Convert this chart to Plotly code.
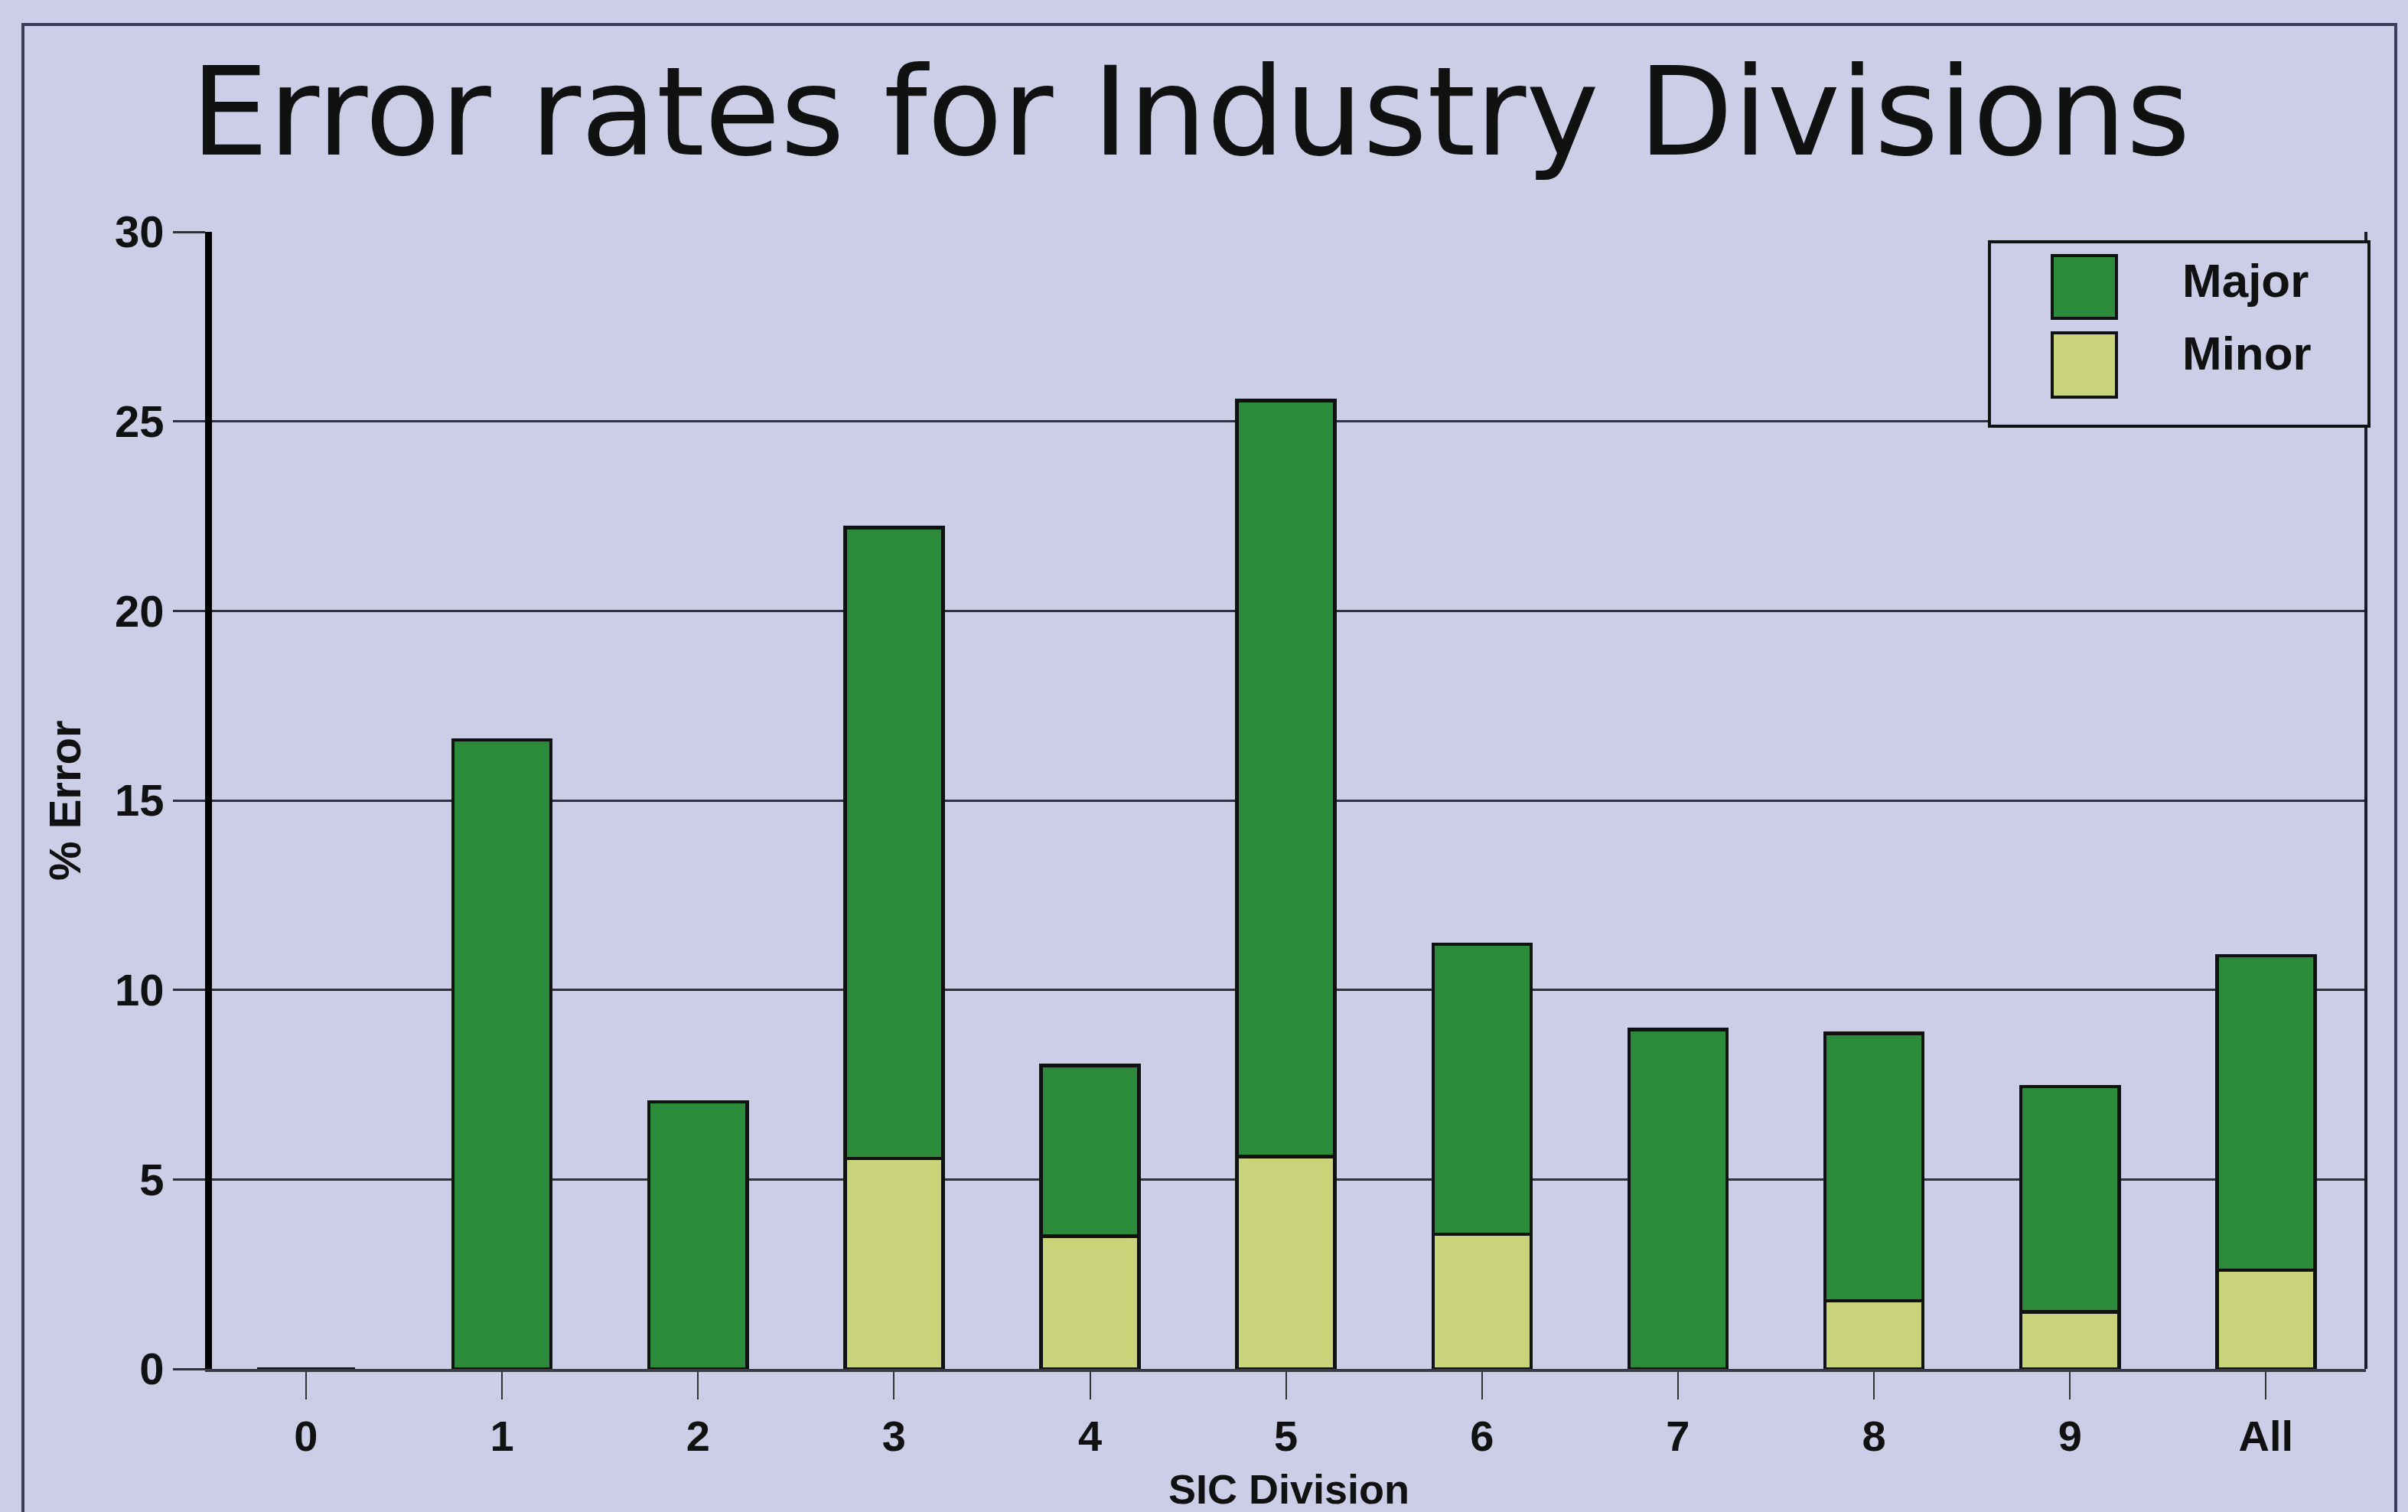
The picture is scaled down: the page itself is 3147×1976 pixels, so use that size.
import plotly.graph_objects as go

categories = ["0", "1", "2", "3", "4", "5", "6", "7", "8", "9", "All"]
major = [0, 16.6, 7.05, 16.65, 4.5, 19.95, 7.65, 8.95, 7.05, 5.95, 8.3]
minor = [0, 0, 0, 5.55, 3.5, 5.6, 3.55, 0, 1.8, 1.5, 2.6]
y_ticks = [0, 5, 10, 15, 20, 25, 30]

BG = "#CBCEE6"
MAJOR_C = "#2C8A3B"
MINOR_C = "#C9D47A"
GRID = "#30303c"
FONT = "Arial, Liberation Sans, sans-serif"

W, H = 3147, 1976
L, R, T, B = 277, 55, 303, 187
PW, PH = W - L - R, H - T - B

def px(x):
    return (x - L) / PW

def py(y):
    return (H - B - y) / PH

fig = go.Figure()
fig.add_trace(go.Bar(x=categories, y=minor, name="Minor", marker=dict(color=MINOR_C, line=dict(color="#111", width=4.5)), width=0.5))
fig.add_trace(go.Bar(x=categories, y=major, name="Major", marker=dict(color=MAJOR_C, line=dict(color="#111", width=4.5)), width=0.5))

shapes = [
    # outer frame
    dict(type="rect", xref="paper", yref="paper", x0=px(30), x1=px(3131), y0=py(2010), y1=py(32),
         line=dict(color="#3c3c5c", width=4), layer="below"),
    # right border of plot
    dict(type="line", xref="paper", yref="paper", x0=1, x1=1, y0=0, y1=1, line=dict(color="#1a1a24", width=4)),
    # legend box
    dict(type="rect", xref="paper", yref="paper", x0=px(2600), x1=px(3096), y0=py(557), y1=py(316),
         line=dict(color="#111", width=4), fillcolor=BG),
    dict(type="rect", xref="paper", yref="paper", x0=px(2682), x1=px(2766), y0=py(416), y1=py(334),
         line=dict(color="#111", width=4), fillcolor=MAJOR_C),
    dict(type="rect", xref="paper", yref="paper", x0=px(2682), x1=px(2766), y0=py(519), y1=py(435),
         line=dict(color="#111", width=4), fillcolor=MINOR_C),
]

annotations = [
    dict(text="Major", xref="paper", yref="paper", x=px(2850), y=py(367), xanchor="left", yanchor="middle",
         showarrow=False, font=dict(family=FONT, size=62, color="#111", weight="bold")),
    dict(text="Minor", xref="paper", yref="paper", x=px(2850), y=py(462), xanchor="left", yanchor="middle",
         showarrow=False, font=dict(family=FONT, size=62, color="#111", weight="bold")),
    dict(text="% Error", xref="paper", yref="paper", x=px(84), y=0.5, xanchor="center", yanchor="middle",
         textangle=-90, showarrow=False, font=dict(family=FONT, size=58, color="#111", weight="bold")),
    dict(text="SIC Division", xref="paper", yref="paper", x=0.5, y=py(1946), xanchor="center", yanchor="middle",
         showarrow=False, font=dict(family=FONT, size=54, color="#111", weight="bold")),
]

fig.update_layout(
    width=W, height=H,
    margin=dict(l=L, r=R, t=T, b=B),
    paper_bgcolor=BG, plot_bgcolor=BG,
    barmode="stack",
    showlegend=False,
    title=dict(text="Error rates for Industry Divisions", x=1556 / W, xanchor="center",
               y=1 - 146 / H, yanchor="middle",
               font=dict(family="DejaVu Sans", size=161, color="#111")),
    shapes=shapes,
    annotations=annotations,
)

fig.update_xaxes(
    type="category", range=[-0.48, 10.51],
    showgrid=False, zeroline=False,
    showline=True, linecolor="#3a3a48", linewidth=3.5,
    ticks="outside", ticklen=36, tickwidth=2, tickcolor="#333",
    tickfont=dict(family=FONT, size=56, color="#111", weight="bold"),
)
fig.update_yaxes(
    range=[0, 30], tickvals=y_ticks,
    showgrid=True, gridcolor=GRID, gridwidth=3, zeroline=False,
    showline=True, linecolor="#000", linewidth=9,
    ticks="outside", ticklen=42, tickwidth=3, tickcolor=GRID,
    tickfont=dict(family=FONT, size=58, color="#111", weight="bold"),
)

fig.write_html("out.html")
